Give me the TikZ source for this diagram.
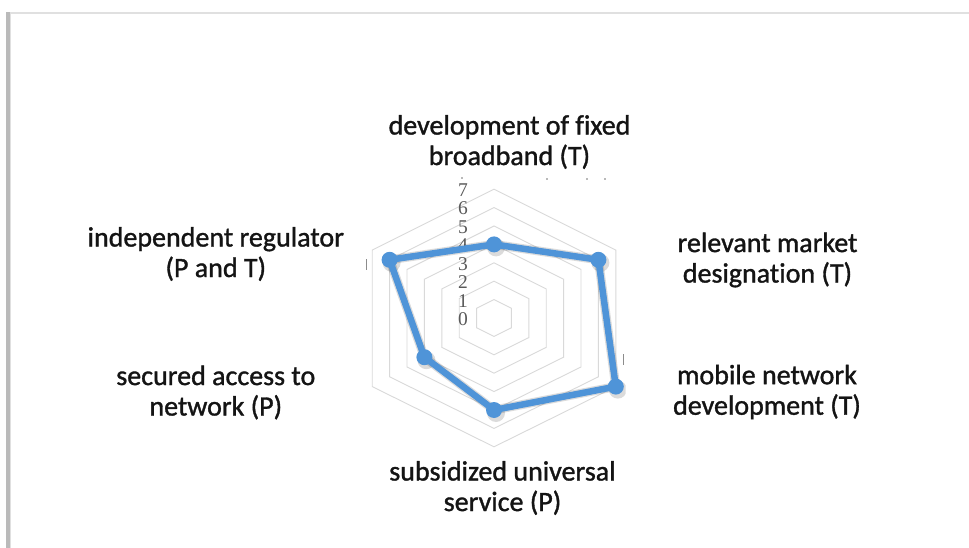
\documentclass[tikz,border=0pt]{standalone}
\usepackage{fontspec}
\setmainfont{Carlito}[Ligatures={NoCommon}, FakeBold=1.2]
\newfontfamily\numfont{Liberation Serif}
\usetikzlibrary{calc}
\definecolor{serie}{RGB}{79,148,216}
\definecolor{gridc}{RGB}{217,217,217}
\definecolor{numc}{RGB}{90,90,90}
\definecolor{labc}{RGB}{20,20,20}
\begin{document}
\begin{tikzpicture}[x=1pt,y=-1pt,
  gridline/.style={draw=gridc, line width=0.9pt, line join=miter},
  dataline/.style={draw=serie, line width=6.5pt, line join=round},
  shadowline/.style={draw=black, opacity=0.14, line width=9pt, line join=round},
  marker/.style={circle, fill=serie, minimum size=16pt, inner sep=0pt},
  markshadow/.style={circle, fill=black, opacity=0.14, minimum size=18pt, inner sep=0pt},
  catlabel/.style={align=center, font=\fontsize{28}{30.5}\selectfont, inner sep=0pt, text=labc},
  numlabel/.style={font=\numfont\fontsize{19.5}{19.5}\selectfont, text=numc, inner sep=0pt},
  tick/.style={draw=black!45, line width=0.9pt},
  dotmark/.style={circle, fill=black!55, inner sep=0pt, minimum size=1.6pt}
]
\useasboundingbox (0,0) rectangle (969,548);
\fill[white] (0,0) rectangle (969,548);
% outer frame
\draw[line width=1.6pt, draw=black!12] (6,13.3) -- (969,13.3);
\draw[line width=3.5pt, draw=black!27] (7.8,12.5) -- (7.8,548);
\draw[line width=1pt, draw=black!12] (10.5,14) -- (10.5,548);

% axis geometry
\coordinate (C) at (494,318);
\coordinate (u0) at (0,-18.4);
\coordinate (u1) at (17.4,-9.7);
\coordinate (u2) at (17.4,9.8);
\coordinate (u3) at (0,18.4);
\coordinate (u4) at (-17.4,9.8);
\coordinate (u5) at (-17.4,-9.7);

\begin{scope}
\clip (330,168) rectangle (625.5,465);
% grid hexagons
\foreach \k in {1,...,7}{
  \draw[gridline] ($(C)+\k*(u0)$) -- ($(C)+\k*(u1)$) -- ($(C)+\k*(u2)$)
    -- ($(C)+\k*(u3)$) -- ($(C)+\k*(u4)$) -- ($(C)+\k*(u5)$) -- cycle;
}
% value labels
\foreach \k in {0,...,7}{
  \node[numlabel] (n\k) at ($(C)+\k*(u0)+(-31,1)$) {\k};
}
% data points
\coordinate (d0) at ($(C)+4*(u0)$);
\coordinate (d1) at ($(C)+6*(u1)$);
\coordinate (d2) at ($(C)+7*(u2)$);
\coordinate (d3) at ($(C)+5*(u3)$);
\coordinate (d4) at ($(C)+4*(u4)$);
\coordinate (d5) at ($(C)+6*(u5)$);
\draw[shadowline, shift={(2,3)}] (d0) -- (d1) -- (d2) -- (d3) -- (d4) -- (d5) -- cycle;
\foreach \i in {0,...,5}{
  \node[markshadow] (s\i) at ($(d\i)+(2,3)$) {};
}
\draw[dataline] (d0) -- (d1) -- (d2) -- (d3) -- (d4) -- (d5) -- cycle;
\foreach \i in {0,...,5}{
  \node[marker] (m\i) at (d\i) {};
}
% stray marks of clipped labels
\node[dotmark] (t0) at (462,178) {};
\node[dotmark] (t1) at (547,179) {};
\node[dotmark] (t2) at (587,179) {};
\node[dotmark] (t3) at (605,179) {};
\draw[tick] (623.8,354) -- (623.8,365);
\end{scope}
\draw[tick] (366,259) -- (366,270);

% category labels
\node[catlabel] (lt) at (509.5,142) {development of fixed\\broadband (T)};
\node[catlabel] (lur) at (767.5,260) {relevant market\\designation (T)};
\node[catlabel] (llr) at (767,392) {mobile network\\development (T)};
\node[catlabel] (lb) at (502.5,488) {subsidized universal\\service (P)};
\node[catlabel] (lll) at (215.8,392.5) {secured access to\\network (P)};
\node[catlabel] (lul) at (215.8,254) {independent regulator\\(P and T)};
\end{tikzpicture}
\end{document}
